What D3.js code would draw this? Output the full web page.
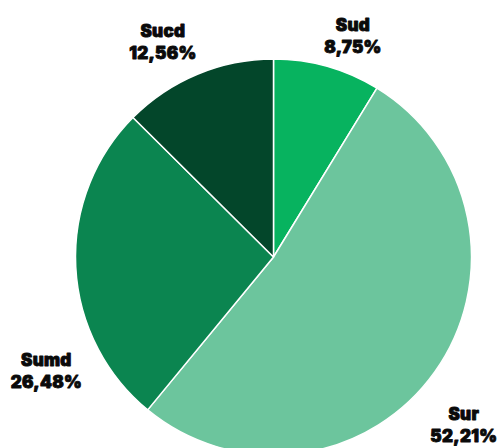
<!DOCTYPE html>
<html>
<head>
<meta charset="utf-8">
<script src="https://cdn.jsdelivr.net/npm/d3@7"></script>
<style>
  html, body { margin: 0; padding: 0; background: #fff; }
  svg { display: block; }
  text { font-family: "Inter", "Liberation Sans", sans-serif; font-weight: 900; }
</style>
</head>
<body>
<svg id="chart" width="501" height="448"></svg>
<script>
// Data
const categories = ["Sud", "Sur", "Sumd", "Sucd"];
const values = [8.75, 52.21, 26.48, 12.56];
const valueLabels = ["8,75%", "52,21%", "26,48%", "12,56%"];
const colors = ["#07b35f", "#6cc59d", "#0b8550", "#03462a"];
// Label placement: angular offset from slice mid-angle (deg) and radius (px)
const labelShiftDeg = [4, 6, -23.7, -4.6];
const labelRadius = [235, 254, 254, 242];

const W = 501, H = 448;
const cx = 273.5, cy = 257, R = 198;

const svg = d3.select("#chart");
const g = svg.append("g").attr("transform", `translate(${cx},${cy})`);

const data = categories.map((c, i) => ({ cat: c, value: values[i], label: valueLabels[i], i }));

const pie = d3.pie().value(d => d.value).sort(null);
const arc = d3.arc().innerRadius(0).outerRadius(R);
const arcs = pie(data);

g.selectAll("path.slice")
  .data(arcs)
  .join("path")
  .attr("class", "slice")
  .attr("d", arc)
  .attr("fill", d => colors[d.data.i])
  .attr("stroke", "#ffffff")
  .attr("stroke-width", 1.5)
  .attr("stroke-linejoin", "round");

const fs = 17;
const labels = g.selectAll("g.lbl")
  .data(arcs)
  .join("g")
  .attr("class", "lbl")
  .attr("transform", d => {
    const mid = (d.startAngle + d.endAngle) / 2 + labelShiftDeg[d.data.i] * Math.PI / 180;
    const r = labelRadius[d.data.i];
    return `translate(${r * Math.sin(mid)},${-r * Math.cos(mid)})`;
  });

function addLine(sel, y, fn) {
  sel.append("text")
    .attr("text-anchor", "middle")
    .attr("y", y)
    .attr("font-size", fs)
    .attr("fill", "#0a0a0a")
    .attr("stroke", "#0a0a0a")
    .attr("stroke-width", 0.9)
    .attr("stroke-linejoin", "round")
    .attr("letter-spacing", 0.3)
    .text(fn);
}
addLine(labels, -5, d => d.data.cat);
addLine(labels, 17, d => d.data.label);
</script>
</body>
</html>
